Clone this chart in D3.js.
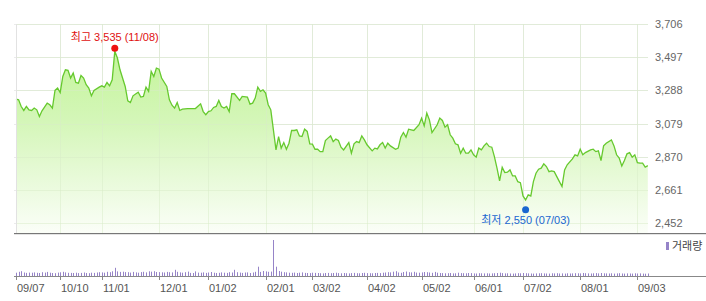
<!DOCTYPE html>
<html>
<head>
<meta charset="utf-8">
<script src="https://cdn.jsdelivr.net/npm/d3@7"></script>
<style>
  body { margin: 0; background: #fff; }
  svg { display: block; }
  text { font-family: "Liberation Sans", "Noto Sans CJK KR", sans-serif; font-size: 11px; }
</style>
</head>
<body>
<svg id="chart" width="706" height="301"></svg>
<script>
// trading day index (0 = 09/07) and closing price at the turning points
var days = [0,1,2,3,4,5,6,7,8,9,10,12,13,14,15,16,17,18,19,20,21,22,23,24,25,26,27,28,29,30,32,33,34,35,36,37,38,39,40,42,43,44,45,47,48,49,50,51,52,53,54,55,56,58,59,60,61,62,63,64,66,69,71,72,73,74,75,76,77,78,79,80,81,82,83,84,86,87,89,90,91,92,93,94,95,96,97,98,99,100,101,102,103,104,105,106,107,108,109,110,111,112,113,114,115,116,117,118,119,120,121,122,123,124,125,126,128,129,130,131,132,133,134,135,137,138,139,140,141,142,143,144,146,147,148,149,150,151,152,153,155,156,157,158,159,160,162,163,164,165,166,167,168,169,170,171,172,173,174,175,176,177,178,179,180,181,182,183,184,185,186,187,188,189,190,191,192,193,194,195,196,197,198,199,200,201,202,203,204,205,206,207,209,210,211,212,214,215,216,217,218,219,221,222,223,224,225,226,227,229,230,231,232,233,234,235,236,237,238,239,240,241,242,243];
var closes = [3234,3229,3187,3162,3187,3166,3162,3177,3166,3124,3160,3208,3198,3177,3288,3303,3275,3376,3418,3414,3366,3397,3338,3334,3382,3366,3324,3303,3254,3288,3309,3317,3309,3338,3317,3355,3535,3492,3418,3313,3223,3212,3254,3277,3246,3250,3309,3282,3408,3376,3429,3422,3366,3313,3229,3195,3177,3212,3162,3170,3174,3174,3204,3155,3135,3155,3160,3181,3187,3225,3187,3177,3187,3155,3267,3267,3225,3250,3246,3202,3208,3240,3309,3282,3292,3271,3198,3166,3040,2914,2998,2925,2960,2918,2956,3036,3036,3040,3002,2998,3044,3030,2952,2950,2918,2918,2903,2903,2973,2988,3002,2966,2982,2973,2931,2914,2960,2893,2952,2966,2960,3002,2977,2946,2908,2925,2920,2946,2960,2925,2956,2939,2918,2925,2994,3023,2994,3044,3040,3036,3072,3113,3065,3145,3103,3023,3072,3114,3099,3057,3072,3009,2988,2952,2946,2893,2925,2893,2893,2914,2883,2868,2925,2914,2939,2956,2935,2931,2872,2799,2719,2804,2771,2774,2788,2750,2750,2714,2708,2624,2599,2631,2624,2714,2767,2792,2799,2826,2809,2777,2782,2777,2714,2683,2788,2820,2857,2883,2876,2918,2883,2897,2914,2918,2903,2908,2847,2939,2956,2977,2939,2883,2862,2813,2847,2889,2897,2868,2883,2834,2830,2830,2805,2815];

// daily volume, one value per trading day 0..243
var volumes = [
  330,420,480,350,310,340,330,360,320,300,380,340,410,330,300,280,340,370,420,360,320,310,300,330,290,310,350,300,280,330,310,
  350,380,360,330,420,380,470,820,460,410,430,390,380,340,410,360,330,390,420,360,470,430,480,400,390,370,350,410,380,360,
  620,420,360,330,380,440,310,300,460,340,330,360,310,350,400,330,300,320,360,330,310,380,350,620,380,340,310,350,360,300,
  350,420,930,410,500,460,420,440,3600,930,500,430,380,360,330,320,340,300,330,360,310,300,290,330,310,300,280,260,300,310,
  280,300,330,290,270,300,280,260,290,310,280,270,300,320,290,280,270,300,310,290,330,350,380,360,430,480,350,320,400,450,
  380,360,420,340,330,360,400,380,350,320,410,330,300,290,270,280,300,260,270,330,290,280,270,300,290,260,250,280,270,260,
  270,250,260,280,300,330,290,260,270,250,240,260,280,270,300,280,260,250,240,260,270,280,260,250,240,270,260,280,250,260,
  240,270,250,260,280,270,260,300,280,260,250,270,290,260,300,270,260,250,270,240,260,280,250,240,260,250,240,270,250,260,240,230,250
];

var tickDays = [0,17,33,55,74,96,114,135,156,176,195,217,239];
var tickLabels = ["09/07","10/10","11/01","12/01","01/02","02/01","03/02","04/02","05/02","06/01","07/02","08/01","09/03"];
var priceTicks = [2452,2661,2870,3079,3288,3497,3706];

var highPoint = [38, 3535];
var lowPoint = [196, 2550];
var highLabel = "최고 3,535 (11/08)";
var lowLabel = "최저 2,550 (07/03)";
var volumeLabel = "거래량";

var svg = d3.select("#chart");
var plotLeft = 16, plotRight = 648, plotTop = 24, priceBottom = 233, volBase = 276;

var x = d3.scaleLinear().domain([0, 243]).range([plotLeft, 647.8]);
var y = d3.scaleLinear().domain([2452, 3706]).range([223.3, plotTop]);
var yv = d3.scaleLinear().domain([0, d3.max(volumes)]).range([volBase, 240]);

var defs = svg.append("defs");
var grad = defs.append("linearGradient")
  .attr("id", "fillGrad")
  .attr("gradientUnits", "userSpaceOnUse")
  .attr("x1", 0).attr("x2", 0)
  .attr("y1", 60).attr("y2", priceBottom);
grad.append("stop").attr("offset", "0%").attr("stop-color", "#c6f59e");
grad.append("stop").attr("offset", "35%").attr("stop-color", "#d4f6b8");
grad.append("stop").attr("offset", "100%").attr("stop-color", "#fbfef8");

// grid
svg.append("g").selectAll("line")
  .data(priceTicks)
  .enter().append("line")
  .attr("x1", plotLeft - 2).attr("x2", plotRight)
  .attr("y1", function(d){ return Math.round(y(d)) + 0.5; })
  .attr("y2", function(d){ return Math.round(y(d)) + 0.5; })
  .style("stroke", "#ebebeb");

svg.append("g").selectAll("line")
  .data(tickDays)
  .enter().append("line")
  .attr("x1", function(d){ return Math.round(x(d)) + 0.5; })
  .attr("x2", function(d){ return Math.round(x(d)) + 0.5; })
  .attr("y1", plotTop).attr("y2", priceBottom)
  .style("stroke", "#ebebeb");

// price area + line
var pts = days.map(function(d, i){ return [d, closes[i]]; });

svg.append("path")
  .datum(pts)
  .attr("d", d3.area()
    .x(function(d){ return x(d[0]); })
    .y0(priceBottom)
    .y1(function(d){ return y(d[1]); }))
  .style("fill", "url(#fillGrad)");

// grid again faintly over the fill
svg.append("g").selectAll("line")
  .data(priceTicks)
  .enter().append("line")
  .attr("x1", plotLeft).attr("x2", plotRight)
  .attr("y1", function(d){ return Math.round(y(d)) + 0.5; })
  .attr("y2", function(d){ return Math.round(y(d)) + 0.5; })
  .style("stroke", "#d8ecc8").style("stroke-opacity", 0.5);

svg.append("g").selectAll("line")
  .data(tickDays)
  .enter().append("line")
  .attr("x1", function(d){ return Math.round(x(d)) + 0.5; })
  .attr("x2", function(d){ return Math.round(x(d)) + 0.5; })
  .attr("y1", plotTop).attr("y2", priceBottom)
  .style("stroke", "#d8ecc8").style("stroke-opacity", 0.5);

svg.append("path")
  .datum(pts)
  .attr("d", d3.line()
    .x(function(d){ return x(d[0]); })
    .y(function(d){ return y(d[1]); }))
  .style("fill", "none")
  .style("stroke", "#66c92e")
  .style("stroke-width", 1.3);

// left edge
svg.append("line")
  .attr("x1", plotLeft + 0.5).attr("x2", plotLeft + 0.5)
  .attr("y1", plotTop).attr("y2", priceBottom)
  .style("stroke", "#e2e2e2");

// y labels
svg.append("g").selectAll("text")
  .data(priceTicks)
  .enter().append("text")
  .attr("x", 655)
  .attr("y", function(d){ return y(d) + 4; })
  .style("fill", "#666")
  .text(function(d){ return d3.format(",")(d); });

// separator between price and volume
svg.append("line")
  .attr("x1", 14).attr("x2", 706)
  .attr("y1", priceBottom + 0.5).attr("y2", priceBottom + 0.5)
  .style("stroke", "#777");
svg.append("line")
  .attr("x1", 14).attr("x2", 706)
  .attr("y1", priceBottom + 1.5).attr("y2", priceBottom + 1.5)
  .style("stroke", "#e4e4e4");

// volume bars
svg.append("g").selectAll("rect")
  .data(volumes)
  .enter().append("rect")
  .attr("x", function(d, i){ return Math.round(x(i)); })
  .attr("width", 1)
  .attr("y", function(d){ return yv(d); })
  .attr("height", function(d){ return volBase - yv(d); })
  .style("fill", "#9684c8");

svg.append("line")
  .attr("x1", 14).attr("x2", 706)
  .attr("y1", volBase + 0.5).attr("y2", volBase + 0.5)
  .style("stroke", "#888");

svg.append("g").selectAll("line")
  .data(tickDays)
  .enter().append("line")
  .attr("x1", function(d){ return Math.round(x(d)) + 0.5; })
  .attr("x2", function(d){ return Math.round(x(d)) + 0.5; })
  .attr("y1", volBase).attr("y2", volBase + 4)
  .style("stroke", "#888");

svg.append("g").selectAll("text")
  .data(tickDays)
  .enter().append("text")
  .attr("x", function(d){ return Math.round(x(d)) + 1; })
  .attr("y", 292)
  .style("fill", "#555")
  .text(function(d, i){ return tickLabels[i]; });

// volume legend
svg.append("rect")
  .attr("x", 666).attr("y", 242).attr("width", 3).attr("height", 8)
  .style("fill", "#9684c8");
svg.append("text")
  .attr("x", 672).attr("y", 250)
  .style("fill", "#444")
  .text(volumeLabel);

// high / low markers
svg.append("circle")
  .attr("cx", x(highPoint[0])).attr("cy", y(highPoint[1]) - 3)
  .attr("r", 3.5)
  .style("fill", "#ee1111");
svg.append("text")
  .attr("x", x(highPoint[0])).attr("y", y(highPoint[1]) - 10)
  .attr("text-anchor", "middle")
  .style("fill", "#e01010")
  .text(highLabel);

svg.append("circle")
  .attr("cx", x(lowPoint[0])).attr("cy", y(lowPoint[1]) + 2)
  .attr("r", 3.5)
  .style("fill", "#1a66d0");
svg.append("text")
  .attr("x", x(lowPoint[0])).attr("y", y(lowPoint[1]) + 16)
  .attr("text-anchor", "middle")
  .style("fill", "#1a66d0")
  .text(lowLabel);
</script>
</body>
</html>
